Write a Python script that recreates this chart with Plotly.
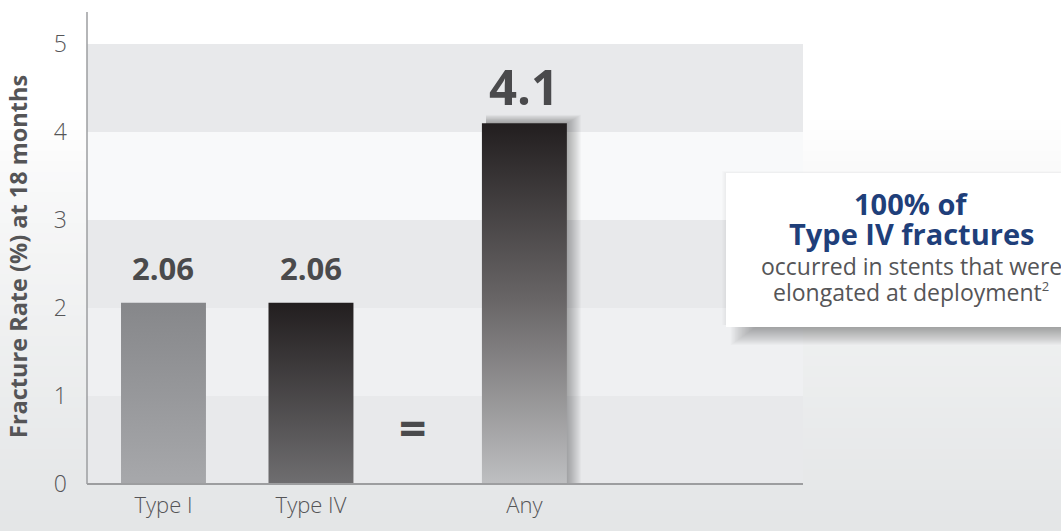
import plotly.graph_objects as go

# Fracture rates at 18 months
categories = ["Type I", "Type IV", "Any"]
values = [2.06, 2.06, 4.1]
value_labels = ["2.06", "2.06", "4.1"]
y_ticks = [0, 1, 2, 3, 4, 5]

# layout-only settings
x_pos = [0.0, 1.0, 2.447]          # horizontal slot of each category
eq_pos = 1.69                       # slot of the "=" sign
bar_w = 0.576
bar_scales = [
    [[0, "#a7a8ab"], [1, "#86878a"]],
    [[0, "#6f6e70"], [1, "#221e1f"]],
    [[0, "#bebfc1"], [0.5, "#6a6768"], [1, "#221e1f"]],
]
label_sizes = [31, 31, 49]
label_shifts = [12, 12, 2]

W, H = 1061, 531
L, R, T, B = 87, 258, 12, 47
y_top = 5.364
x_range = [-0.5186, 4.336]
px_x_unit = (x_range[1] - x_range[0]) / (W - L - R)
px_y_unit = y_top / (H - T - B)

fig = go.Figure()

# soft drop shadow behind the tallest bar, built from thin translucent layers
v = values[2]
xc = x_pos[2]
for k in range(1, 15):
    x0 = xc - bar_w / 2 + 4 * px_x_unit
    x1 = xc + bar_w / 2 + k * px_x_unit
    y1 = v + k * 0.6 * px_y_unit
    fig.add_trace(go.Scatter(
        x=[x0, x1, x1, x0, x0], y=[0, 0, y1, y1, 0],
        mode="lines", line=dict(width=0), fill="toself",
        fillcolor="rgba(30,30,30,0.028)", hoverinfo="skip", showlegend=False))

# bars with vertical gradients
for c, v, xc, cs in zip(categories, values, x_pos, bar_scales):
    x0, x1 = xc - bar_w / 2, xc + bar_w / 2
    fig.add_trace(go.Scatter(
        x=[x0, x1, x1, x0, x0], y=[0, 0, v, v, 0],
        mode="lines", line=dict(width=0), fill="toself",
        fillgradient=dict(type="vertical", colorscale=cs),
        name=c, hoverinfo="skip", showlegend=False))

pw, ph = W - L - R, H - T - B
def px_x(p):
    return (p - L) / pw
def px_y(p):
    return (H - B - p) / ph

shapes = []
# page background: white fading to light grey towards the bottom
n = 40
top_grad = 120
for i in range(n):
    y0 = top_grad + (H - top_grad) * i / n
    y1 = top_grad + (H - top_grad) * (i + 1) / n + 1
    t = (i + 0.5) / n
    g0 = (255, 255, 255)
    g1 = (228, 230, 231)
    col = tuple(int(a + (b - a) * (t ** 0.8)) for a, b in zip(g0, g1))
    shapes.append(dict(type="rect", xref="paper", yref="paper",
                       x0=-0.2, x1=1.5, y0=px_y(y1), y1=px_y(y0),
                       fillcolor=f"rgb{col}", line=dict(width=0), layer="below"))

# horizontal bands inside the plot
band_cols = {0: "#e8e9eb", 1: "#eff0f2", 2: "#e8e9eb", 3: "#f8f9fa", 4: "#e8e9eb"}
for k in range(5):
    shapes.append(dict(type="rect", xref="paper", yref="y", x0=0, x1=1,
                       y0=k, y1=k + 1, fillcolor=band_cols[k],
                       line=dict(width=0), layer="below"))

# axis lines
shapes.append(dict(type="line", xref="paper", yref="paper", x0=0, x1=0, y0=0, y1=1,
                   line=dict(color="#9d9ea0", width=1.5)))
shapes.append(dict(type="line", xref="paper", yref="paper", x0=0, x1=1, y0=0, y1=0,
                   line=dict(color="#9d9ea0", width=2)))

# callout box with a shadow falling below it
bx0, bx1, by0, by1 = 726, 1075, 173, 327
for k in range(1, 19):
    shapes.append(dict(type="rect", xref="paper", yref="paper",
                       x0=px_x(bx0 + 30 - k * 1.4), x1=px_x(bx1),
                       y0=px_y(by1 + k), y1=px_y(by1 - 4),
                       fillcolor="rgba(40,40,40,0.024)", line=dict(width=0)))
for k in range(1, 5):
    shapes.append(dict(type="rect", xref="paper", yref="paper",
                       x0=px_x(bx0 - k), x1=px_x(bx1), y0=px_y(by1 - 2), y1=px_y(by0 - k * 0.5),
                       fillcolor="rgba(40,40,40,0.012)", line=dict(width=0)))
shapes.append(dict(type="rect", xref="paper", yref="paper",
                   x0=px_x(bx0), x1=px_x(bx1), y0=px_y(by1), y1=px_y(by0),
                   fillcolor="#ffffff", line=dict(width=0)))

annotations = []
# value labels above the bars
for v, xc, txt, fs, sh in zip(values, x_pos, value_labels, label_sizes, label_shifts):
    annotations.append(dict(x=xc, y=v, xref="x", yref="y", text=f"<b>{txt}</b>",
                            showarrow=False, yanchor="bottom", yshift=sh,
                            font=dict(family="Open Sans", size=fs, color="#4a4a4c")))
# equals sign between the Type IV and Any bars
annotations.append(dict(x=eq_pos, y=0, xref="x", yref="y", text="<b>=</b>",
                        showarrow=False, yanchor="middle", yshift=57,
                        font=dict(family="Open Sans", size=48, color="#4a4a4c")))
# axis title
annotations.append(dict(x=px_x(18), y=px_y(257), xref="paper", yref="paper",
                        text="<b>Fracture Rate (%) at 18 months</b>", textangle=-90,
                        showarrow=False, xanchor="center", yanchor="middle",
                        font=dict(family="Open Sans", size=23.5, color="#555557")))
# callout text
navy = "#1f3f7a"
grey = "#555557"
for txt, ypx, fs, col, wt in [
    ("<b>100% of</b>", 203, 29, navy, 700),
    ("<b>Type IV fractures</b>", 233, 29, navy, 700),
    ("occurred in stents that were", 266, 23, grey, 400),
    ("elongated at deployment<sup><span style='font-size:13px'>2</span></sup>", 292, 23, grey, 400),
]:
    annotations.append(dict(x=px_x(911), y=px_y(ypx), xref="paper", yref="paper",
                            text=txt, showarrow=False, xanchor="center", yanchor="middle",
                            font=dict(family="Open Sans", size=fs, color=col, weight=wt)))

fig.update_layout(
    width=W, height=H,
    margin=dict(l=L, r=R, t=T, b=B, autoexpand=False),
    paper_bgcolor="#ffffff", plot_bgcolor="rgba(0,0,0,0)",
    shapes=shapes, annotations=annotations, showlegend=False,
    xaxis=dict(range=x_range, tickmode="array", tickvals=x_pos, ticktext=categories,
               showgrid=False, zeroline=False, showline=False, ticks="",
               ticklabelstandoff=6, fixedrange=True,
               tickfont=dict(family="Open Sans", size=22, color="#555557", weight=300)),
    yaxis=dict(range=[0, y_top], tickmode="array", tickvals=y_ticks,
               showgrid=False, zeroline=False, showline=False, ticks="",
               ticklabelstandoff=19, fixedrange=True,
               tickfont=dict(family="Open Sans", size=23, color="#555557", weight=300)),
)

fig.write_html("out.html", config={"displayModeBar": False})
